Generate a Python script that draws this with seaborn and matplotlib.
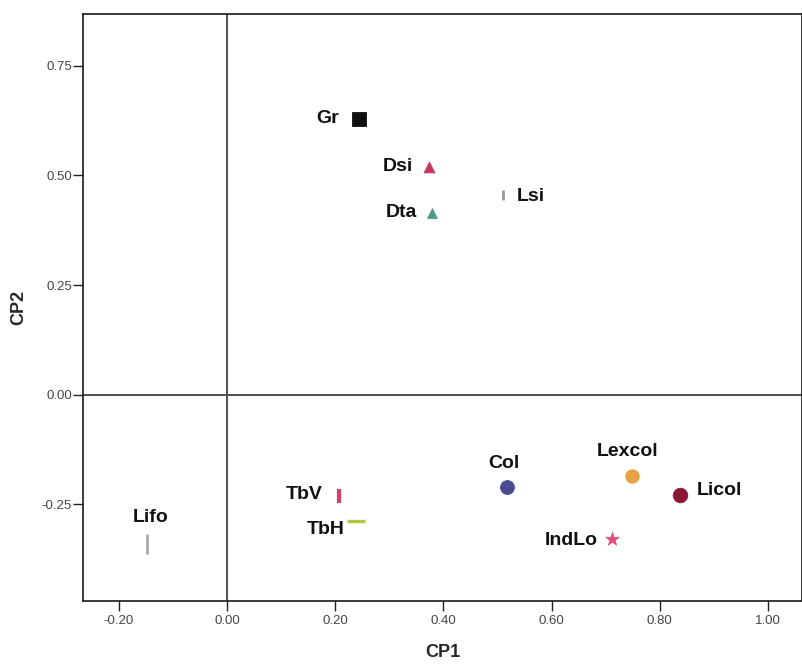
import matplotlib
matplotlib.use("Agg")
import matplotlib.pyplot as plt
import seaborn as sns
import pandas as pd

# ---- data ----
names = ["Gr", "Dsi", "Dta", "Lsi", "Col", "Lexcol", "Licol", "IndLo", "TbV", "TbH", "Lifo"]
cp1 = [0.244, 0.374, 0.380, 0.510, 0.517, 0.749, 0.837, 0.711, 0.207, 0.238, -0.148]
cp2 = [0.629, 0.520, 0.415, 0.456, -0.210, -0.186, -0.228, -0.328, -0.230, -0.288, -0.340]
x_ticks = [-0.20, 0.00, 0.20, 0.40, 0.60, 0.80, 1.00]
y_ticks = [-0.25, 0.00, 0.25, 0.50, 0.75]

# ---- styles ----
markers = {"Gr": "s", "Dsi": "^", "Dta": "^", "Lsi": "|", "Col": "o", "Lexcol": "o",
           "Licol": "o", "IndLo": "*", "TbV": "|", "TbH": "_", "Lifo": "|"}
colors = {"Gr": "#111111", "Dsi": "#c8385a", "Dta": "#4f9a86", "Lsi": "#9a9a9a",
          "Col": "#4a4a90", "Lexcol": "#e8a040", "Licol": "#8a1836", "IndLo": "#e0507a",
          "TbV": "#d8406a", "TbH": "#b4c43c", "Lifo": "#a0a0a0"}
sizes = {"Gr": 110, "Dsi": 60, "Dta": 50, "Lsi": 55, "Col": 100, "Lexcol": 95,
         "Licol": 110, "IndLo": 100, "TbV": 90, "TbH": 160, "Lifo": 220}
line_w = {"Lsi": 2.0, "TbV": 3.0, "TbH": 2.4, "Lifo": 1.8}
# label placement: (dx, dy) in points, ha
label_pos = {"Gr": (-14, 0, "right"), "Dsi": (-12, 0, "right"), "Dta": (-11, 0, "right"),
             "Lsi": (10, -1, "left"), "Col": (-2, 17, "center"), "Lexcol": (-3, 18, "center"),
             "Licol": (12, 3, "left"), "IndLo": (-10, -1, "right"), "TbV": (-12, 1, "right"),
             "TbH": (-8, -6, "right"), "Lifo": (3, 19, "center")}

df = pd.DataFrame({"name": names, "CP1": cp1, "CP2": cp2})

sns.set_style("white")
plt.rcParams["font.family"] = ["Liberation Sans", "DejaVu Sans"]

fig = plt.figure(figsize=(8.03, 6.68), dpi=100)
ax = fig.add_axes([83 / 803, (668 - 601) / 668, (802 - 83) / 803, (601 - 14) / 668])

ax.axvline(0, color="#505050", lw=1.4, zorder=1)
ax.axhline(0, color="#505050", lw=1.4, zorder=1)

for n in names:
    sub = df[df["name"] == n]
    m = markers[n]
    kw = {}
    if m in ("|", "_"):
        kw["linewidth"] = line_w[n]
    else:
        kw["edgecolor"] = colors[n]
        kw["linewidth"] = 0.6
    sns.scatterplot(data=sub, x="CP1", y="CP2", marker=m, color=colors[n], s=sizes[n],
                    ax=ax, legend=False, zorder=3, **kw)

for n, x, y in zip(names, cp1, cp2):
    dx, dy, ha = label_pos[n]
    ax.annotate(n, (x, y), xytext=(dx, dy), textcoords="offset points", ha=ha,
                va="center", fontsize=14, fontweight="bold", color="#111111")

ax.set_xlim(-0.266, 1.063)
ax.set_ylim(-0.470, 0.868)
ax.set_xticks(x_ticks)
ax.set_yticks(y_ticks)
ax.set_xticklabels([f"{v:.2f}" for v in x_ticks])
ax.set_yticklabels([f"{v:.2f}" for v in y_ticks])
ax.tick_params(axis="both", which="both", direction="out", length=7, width=1,
               color="#222222", labelsize=9.5, labelcolor="#444444",
               left=True, bottom=True, top=False, right=False)
ax.tick_params(axis="y", pad=1)
ax.tick_params(axis="x", pad=3)
for s in ax.spines.values():
    s.set_visible(True)
    s.set_color("#1a1a1a")
    s.set_linewidth(1.2)

ax.set_xlabel("CP1", fontsize=13, fontweight="bold", labelpad=12)
ax.set_ylabel("CP2", fontsize=13, fontweight="bold", labelpad=10)

fig.savefig("out.png", dpi=100, facecolor="white")
